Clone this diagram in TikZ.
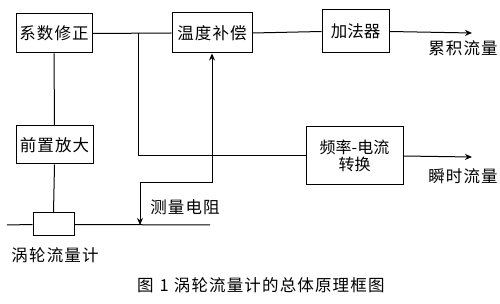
\documentclass[tikz,border=0pt]{standalone}
\usepackage{fontspec}
\setmainfont{Noto Sans CJK SC}
\newfontfamily\cjkls[LetterSpace=7]{Noto Sans CJK SC}
\usetikzlibrary{arrows.meta}
\begin{document}
\begin{tikzpicture}[x=1pt,y=-1pt,
  blk/.style={draw,line width=1pt,fill=white,inner sep=0pt,font=\fontsize{16.5pt}{18pt}\cjkls,align=center},
  lbl/.style={inner sep=0pt,font=\fontsize{16.5pt}{18pt}\cjkls},
  wire/.style={line width=1pt},
  arr/.style={line width=1pt,-{Stealth[length=7pt,width=6pt]}},
  barr/.style={line width=1pt,{Stealth[length=7pt,width=6pt]}-{Stealth[length=7pt,width=6pt]}}]
\useasboundingbox (0,0) rectangle (500,304);
\node[blk,minimum width=76pt,minimum height=39pt] (xs) at (54,33.5) {系数修正};
\node[blk,minimum width=80pt,minimum height=40pt] (wd) at (212,33) {温度补偿};
\node[blk,minimum width=67pt,minimum height=43pt,font=\fontsize{16.5pt}{18pt}\selectfont] (jf) at (355.5,31.5) {加法器};
\node[blk,minimum width=77pt,minimum height=38pt] (qz) at (54.5,145) {前置放大};
\node[blk,minimum width=97pt,minimum height=58pt,font=\fontsize{16pt}{17pt}\selectfont] (pl) at (354.5,156) {频率-电流\\转换};
\node[blk,minimum width=41pt,minimum height=23pt] (wl) at (53.5,224.5) {};
\coordinate (split) at (138,33);
\coordinate (out1) at (472,33);
\coordinate (out2) at (472,157);
\coordinate (wleft) at (7,225);
\coordinate (wright) at (210,225);
\coordinate (rtop) at (212,183);
\coordinate (rbot) at (140,183);
\coordinate (rend) at (140,225);
\draw[wire] (xs.east) -- (wd.west);
\draw[wire] (wd.east) -- (jf.west);
\draw[arr] (jf.east) -- (out1);
\draw[wire] (split) -- (split |- pl.west) -- (pl.west);
\draw[arr] (pl.east) -- (out2);
\draw[wire] (xs.south) -- (qz.north);
\draw[wire] (qz.south) -- (wl.north);
\draw[wire] (wleft) -- (wl.west);
\draw[wire] (wl.east) -- (wright);
\draw[barr] (wd.south) -- (rtop) -- (rbot) -- (rend);
\node[lbl] (l1) at (463,48) {累积流量};
\node[lbl] (l2) at (463,176) {瞬时流量};
\node[lbl] (l3) at (185,207) {测量电阻};
\node[lbl] (l4) at (55,255) {涡轮流量计};
\node[lbl,anchor=west] (cap) at (137,285) {图\hspace{6pt}1\hspace{5pt}涡轮流量计的总体原理框图};
\end{tikzpicture}
\end{document}
